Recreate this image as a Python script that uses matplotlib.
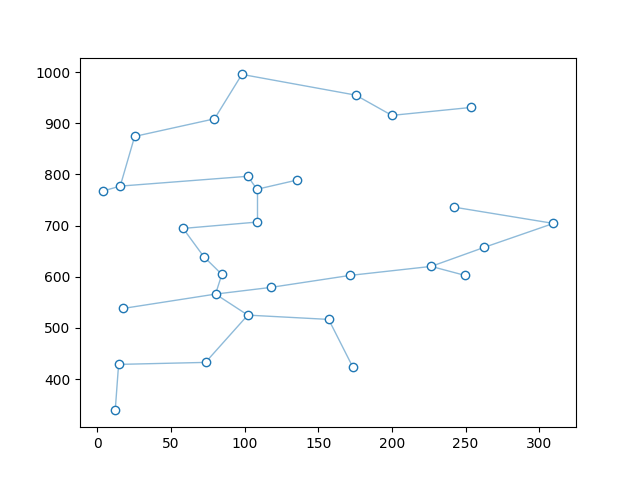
import numpy as np
import matplotlib
matplotlib.use('Agg')
import matplotlib.pyplot as plt

# point coordinates
names = ['A', 'B', 'C', 'D', 'E', 'F', 'G', 'H', 'I', 'J', 'K', 'L', 'M', 'N', 'O',
         'AD', 'AC', 'P', 'Q', 'R', 'S', 'T', 'U', 'V', 'W', 'X', 'Y', 'Z', 'AA', 'AB']
xs = [12.2, 14.5, 73.5, 102.2, 157.1, 173.5, 17.7, 80.3, 117.7, 171.6, 226.7, 249.7,
      262.6, 309.7, 242.0, 84.6, 72.3, 58.3, 108.4, 108.4, 135.6, 102.2, 15.6, 3.6,
      25.4, 79.6, 98.2, 175.5, 200.0, 254.0]
ys = [338.9, 428.8, 432.7, 525.1, 516.7, 423.5, 538.2, 566.2, 579.2, 602.7, 620.3, 602.7,
      657.4, 704.3, 736.2, 604.7, 639.4, 694.5, 706.9, 771.0, 789.0, 796.4, 777.2, 767.4,
      874.3, 908.7, 995.5, 955.0, 915.4, 931.0]

# connections between points
edges = [('A', 'B'), ('B', 'C'), ('C', 'D'), ('D', 'E'), ('E', 'F'), ('D', 'H'),
         ('G', 'H'), ('H', 'I'), ('I', 'J'), ('J', 'K'), ('K', 'L'), ('K', 'M'),
         ('M', 'N'), ('N', 'O'), ('H', 'AD'), ('AD', 'AC'), ('AC', 'P'), ('P', 'Q'),
         ('Q', 'R'), ('R', 'S'), ('R', 'T'), ('T', 'U'), ('U', 'V'), ('U', 'W'),
         ('W', 'X'), ('X', 'Y'), ('Y', 'Z'), ('Z', 'AA'), ('AA', 'AB')]

idx = {n: i for i, n in enumerate(names)}

fig, ax = plt.subplots(figsize=(6.4, 4.8), dpi=100)

for a, b in edges:
    i, j = idx[a], idx[b]
    ax.plot([xs[i], xs[j]], [ys[i], ys[j]], color='#1f77b4', alpha=0.5, lw=1, zorder=1)

ax.plot(xs, ys, 'o', ls='none', ms=6, mfc='white', mec='#1f77b4', mew=1, zorder=2)

plt.savefig('out.png', dpi=100)
